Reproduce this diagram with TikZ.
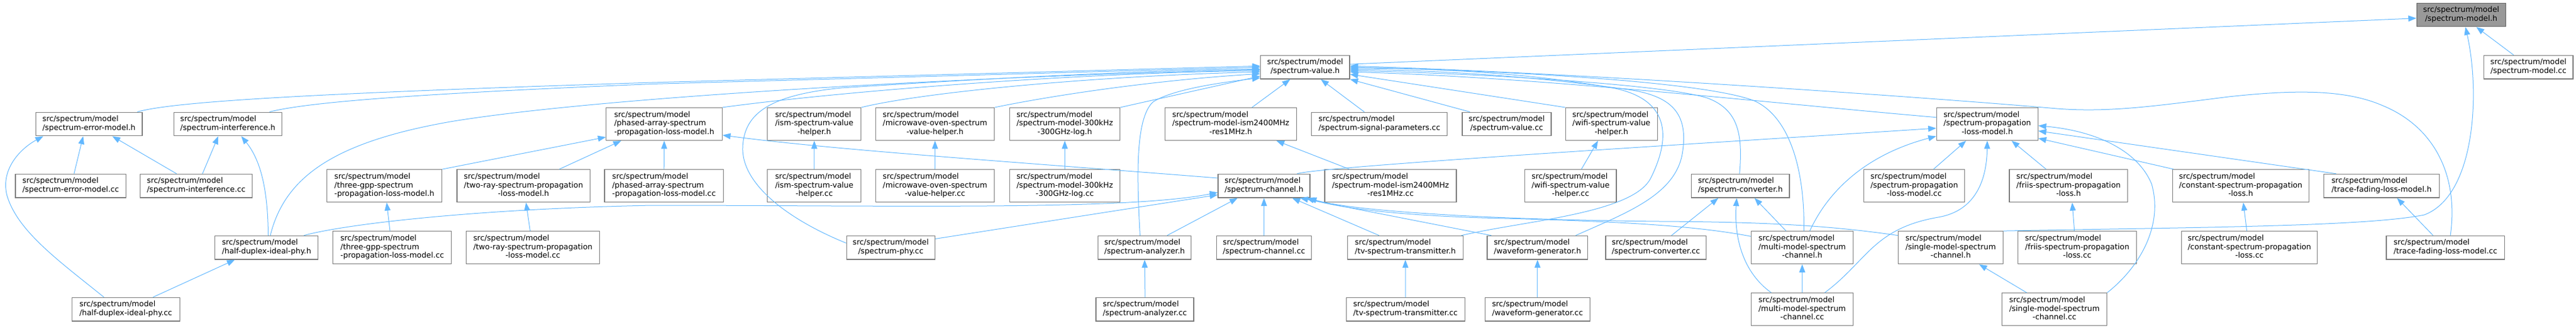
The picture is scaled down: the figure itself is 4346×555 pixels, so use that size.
\documentclass[tikz,border=0pt]{standalone}
\usepackage{fontspec}
\setmainfont{DejaVu Sans}
\usetikzlibrary{arrows.meta}
\definecolor{edgeblue}{HTML}{63B8FF}
\definecolor{boxline}{HTML}{7A7A7A}
\definecolor{rootfill}{HTML}{999999}
\definecolor{rootline}{HTML}{5E5E5E}
% label: first lines left, last line centred
\newcommand{\srcl}[1]{\begin{tabular}{@{}l@{}}src/spectrum/model\\\multicolumn{1}{@{}c@{}}{#1}\end{tabular}}
\newcommand{\srclt}[2]{\begin{tabular}{@{}l@{}}src/spectrum/model\\#1\\\multicolumn{1}{@{}c@{}}{#2}\end{tabular}}
\tikzset{
	fbox/.style={draw=boxline, fill=white, line width=1.2pt, inner sep=0pt,
		minimum height=39.7pt, font=\fontsize{12.85}{14.7}\selectfont}, % file box
	tall/.style={minimum height=55pt}, % three text lines
	root/.style={fill=rootfill, draw=rootline},
	dep/.style={draw=edgeblue, line width=1pt, -{Triangle[length=13.5pt,width=10pt]}} % include edge
}

\begin{document}
\begin{tikzpicture}[x=1pt,y=-1pt]
	\useasboundingbox (0,0) rectangle (4346,555);
	% Row 0 / 1
	\node[fbox, root, minimum width=150pt] (modelh) at (4152.3,25) {\srcl{/spectrum-model.h}};
	\node[fbox, minimum width=150.3pt] (valueh) at (2201.9,113.2) {\srcl{/spectrum-value.h}};
	\node[fbox, minimum width=150.3pt] (modelcc) at (4265.8,113.2) {\srcl{/spectrum-model.cc}};
	% Row 2
	\node[fbox, minimum width=179.6pt] (errh) at (150.1,209) {\srcl{/spectrum-error-model.h}};
	\node[fbox, minimum width=182.4pt] (intfh) at (384.4,209) {\srcl{/spectrum-interference.h}};
	\node[fbox, tall, minimum width=195.6pt] (phasedh) at (1120.6,209) {\srclt{/phased-array-spectrum}{-propagation-loss-model.h}};
	\node[fbox, tall, minimum width=157.9pt] (ismh) at (1373.75,209) {\srclt{/ism-spectrum-value}{-helper.h}};
	\node[fbox, tall, minimum width=200.6pt] (microh) at (1577.5,209) {\srclt{/microwave-oven-spectrum}{-value-helper.h}};
	\node[fbox, tall, minimum width=186.6pt] (log300h) at (1796.4,209) {\srclt{/spectrum-model-300kHz}{-300GHz-log.h}};
	\node[fbox, tall, minimum width=221.6pt] (ism2400h) at (2076.5,209) {\srclt{/spectrum-model-ism2400MHz}{-res1MHz.h}};
	\node[fbox, minimum width=228.7pt] (sigcc) at (2327.2,209) {\srcl{/spectrum-signal-parameters.cc}};
	\node[fbox, minimum width=150pt] (valuecc) at (2542,209) {\srcl{/spectrum-value.cc}};
	\node[fbox, tall, minimum width=155pt] (wifih) at (2718.6,209) {\srclt{/wifi-spectrum-value}{-helper.h}};
	\node[fbox, tall, minimum width=171pt] (proph) at (3352.7,209) {\srclt{/spectrum-propagation}{-loss-model.h}};
	% Row 3
	\node[fbox, minimum width=186.6pt] (errcc) at (119.3,313.2) {\srcl{/spectrum-error-model.cc}};
	\node[fbox, minimum width=189.4pt] (intfcc) at (331.1,313.2) {\srcl{/spectrum-interference.cc}};
	\node[fbox, tall, minimum width=194.3pt] (threegpph) at (648.5,313.2) {\srclt{/three-gpp-spectrum}{-propagation-loss-model.h}};
	\node[fbox, tall, minimum width=224.4pt] (tworayh) at (883.2,313.2) {\srclt{/two-ray-spectrum-propagation}{-loss-model.h}};
	\node[fbox, tall, minimum width=200.5pt] (phasedcc) at (1120.2,313.2) {\srclt{/phased-array-spectrum}{-propagation-loss-model.cc}};
	\node[fbox, tall, minimum width=157.9pt] (ismcc) at (1373.75,313.2) {\srclt{/ism-spectrum-value}{-helper.cc}};
	\node[fbox, tall, minimum width=200.6pt] (microcc) at (1577.5,313.2) {\srclt{/microwave-oven-spectrum}{-value-helper.cc}};
	\node[fbox, tall, minimum width=186.6pt] (log300cc) at (1796.4,313.2) {\srclt{/spectrum-model-300kHz}{-300GHz-log.cc}};
	\node[fbox, minimum width=155pt] (chanh) at (2132.5,313.2) {\srcl{/spectrum-channel.h}};
	\node[fbox, tall, minimum width=222pt] (ism2400cc) at (2346,313.2) {\srclt{/spectrum-model-ism2400MHz}{-res1MHz.cc}};
	\node[fbox, tall, minimum width=154.7pt] (wificc) at (2649.7,313.2) {\srclt{/wifi-spectrum-value}{-helper.cc}};
	\node[fbox, minimum width=165.6pt] (convh) at (2936.2,313.2) {\srcl{/spectrum-converter.h}};
	\node[fbox, tall, minimum width=170.3pt] (propcc) at (3229.6,313.2) {\srclt{/spectrum-propagation}{-loss-model.cc}};
	\node[fbox, tall, minimum width=199.6pt] (friish) at (3489.8,313.2) {\srclt{/friis-spectrum-propagation}{-loss.h}};
	\node[fbox, tall, minimum width=229.5pt] (consth) at (3780.3,313.2) {\srclt{/constant-spectrum-propagation}{-loss.h}};
	\node[fbox, minimum width=194.4pt] (traceh) at (4017.9,313.2) {\srcl{/trace-fading-loss-model.h}};
	% Row 4
	\node[fbox, minimum width=174pt] (halfh) at (449.7,417.2) {\srcl{/half-duplex-ideal-phy.h}};
	\node[fbox, tall, minimum width=199.9pt] (threegppcc) at (661.8,417.2) {\srclt{/three-gpp-spectrum}{-propagation-loss-model.cc}};
	\node[fbox, tall, minimum width=225.2pt] (tworaycc) at (899,417.2) {\srclt{/two-ray-spectrum-propagation}{-loss-model.cc}};
	\node[fbox, minimum width=149.4pt] (phycc) at (1502.8,417.2) {\srcl{/spectrum-phy.cc}};
	\node[fbox, minimum width=157.2pt] (analyzerh) at (1931.1,417.2) {\srcl{/spectrum-analyzer.h}};
	\node[fbox, minimum width=160.4pt] (chancc) at (2132.5,417.2) {\srcl{/spectrum-channel.cc}};
	\node[fbox, minimum width=194.6pt] (tvh) at (2371,417.2) {\srcl{/tv-spectrum-transmitter.h}};
	\node[fbox, minimum width=169.7pt] (waveh) at (2593.9,417.2) {\srcl{/waveform-generator.h}};
	\node[fbox, minimum width=169.8pt] (convcc) at (2793.8,417.2) {\srcl{/spectrum-converter.cc}};
	\node[fbox, tall, minimum width=171.6pt] (multih) at (3040.5,417.2) {\srclt{/multi-model-spectrum}{-channel.h}};
	\node[fbox, tall, minimum width=176.6pt] (singleh) at (3291,417.2) {\srclt{/single-model-spectrum}{-channel.h}};
	\node[fbox, tall, minimum width=199.5pt] (friiscc) at (3504.5,417.2) {\srclt{/friis-spectrum-propagation}{-loss.cc}};
	\node[fbox, tall, minimum width=229.5pt] (constcc) at (3795,417.2) {\srclt{/constant-spectrum-propagation}{-loss.cc}};
	\node[fbox, minimum width=199.6pt] (tracecc) at (4125.7,417.2) {\srcl{/trace-fading-loss-model.cc}};
	% Row 5
	\node[fbox, minimum width=181.7pt] (halfcc) at (212.3,521.2) {\srcl{/half-duplex-ideal-phy.cc}};
	\node[fbox, minimum width=164.9pt] (analyzercc) at (1931.5,521.2) {\srcl{/spectrum-analyzer.cc}};
	\node[fbox, minimum width=199.9pt] (tvcc) at (2371.2,521.2) {\srcl{/tv-spectrum-transmitter.cc}};
	\node[fbox, minimum width=176.7pt] (wavecc) at (2593.9,521.2) {\srcl{/waveform-generator.cc}};
	\node[fbox, tall, minimum width=171.6pt] (multicc) at (3040.5,521.2) {\srclt{/multi-model-spectrum}{-channel.cc}};
	\node[fbox, tall, minimum width=176.9pt] (singlecc) at (3466,521.2) {\srclt{/single-model-spectrum}{-channel.cc}};

	% Edges into spectrum-model.h
	\draw[dep] ([yshift=5pt]valueh.east) -- ([yshift=-5.7pt]modelh.west);
	\draw[dep] ([xshift=-25pt]modelcc.north) -- ([xshift=25.4pt]modelh.south);
	\draw[dep] (singleh.north east) .. controls (3700,383) and (3990,382) .. (4090,362) .. controls (4175,330) and (4185,160) .. ([xshift=7.2pt]modelh.south);
	% Edges into spectrum-value.h, left side
	\draw[dep] ([xshift=81.4pt]errh.north) .. controls (290,172) and (500,158) .. (1100,139) -- ([yshift=2pt]valueh.west);
	\draw[dep] ([xshift=70.2pt]intfh.north) .. controls (520,172) and (700,158) .. (1100,141.5) -- (valueh.west);
	\draw[dep] ([xshift=6.3pt]halfh.north) .. controls (480,300) and (560,240) .. (760,205) .. controls (1000,165) and (1600,130) .. ([yshift=-4pt]valueh.west);
	\draw[dep] (phasedh.north east) .. controls (1450,150) and (1850,122) .. ([yshift=-6pt]valueh.west);
	\draw[dep] (ismh.north east) .. controls (1560,155) and (1850,128) .. ([yshift=-8pt]valueh.west);
	\draw[dep] (microh.north east) .. controls (1780,160) and (1950,135) .. ([yshift=-11pt]valueh.west);
	\draw[dep] (log300h.north east) -- ([yshift=-15pt]valueh.west);
	\draw[dep] ([yshift=7.7pt]phycc.west) .. controls (1330,370) and (1250,310) .. (1253,247) .. controls (1256,190) and (1300,160) .. (1420,148) .. controls (1700,130) and (1950,118) .. ([yshift=-3pt]valueh.west);
	\draw[dep] ([xshift=-7.7pt]analyzerh.north) .. controls (1918,300) and (1915,200) .. (1945,172) .. controls (1975,152) and (2050,140) .. ([yshift=-18pt]valueh.west);
	% Edges into spectrum-value.h, below and right
	\draw[dep] ([xshift=35.8pt]ism2400h.north) -- ([xshift=-25.2pt]valueh.south);
	\draw[dep] ([xshift=-25.5pt]sigcc.north) -- ([xshift=26.4pt]valueh.south);
	\draw[dep] ([xshift=-62pt]valuecc.north) -- (valueh.south east);
	\draw[dep] (wifih.north west) -- ([yshift=-12pt]valueh.east);
	\draw[dep] ([xshift=-3.5pt]tvh.north east) .. controls (2570,372) and (2755,360) .. (2785,300) .. controls (2815,240) and (2825,168) .. (2720,148) .. controls (2560,120) and (2400,115) .. ([yshift=-2pt]valueh.east);
	\draw[dep] ([xshift=-21pt]waveh.north east) .. controls (2740,360) and (2825,330) .. (2838,260) .. controls (2850,190) and (2820,160) .. (2740,150) .. controls (2560,125) and (2400,118) .. ([yshift=-4pt]valueh.east);
	\draw[dep] ([xshift=-1.4pt]convh.north) .. controls (2940,230) and (2935,185) .. (2880,165) .. controls (2800,140) and (2450,122) .. ([yshift=-6pt]valueh.east);
	\draw[dep] ([xshift=2.8pt]multih.north) .. controls (3045,300) and (3025,200) .. (2960,170) .. controls (2870,135) and (2500,118) .. (valueh.east);
	\draw[dep] ([yshift=11.3pt]proph.west) .. controls (3000,175) and (2600,130) .. ([yshift=-8pt]valueh.east);
	\draw[dep] ([xshift=8.3pt]tracecc.north) .. controls (4148,300) and (4110,215) .. (4020,178) .. controls (3960,152) and (3880,150) .. (3760,163) .. controls (3640,178) and (3560,190) .. (3470,183) .. controls (3300,168) and (2700,124) .. ([yshift=2pt]valueh.east);
	% Left group
	\draw[dep] ([xshift=5.6pt]errcc.north) -- ([xshift=-9.8pt]errh.south);
	\draw[dep] ([xshift=-33.1pt]intfcc.north) -- ([xshift=39.3pt]errh.south);
	\draw[dep] ([xshift=-36.9pt]halfcc.north) .. controls (100,440) and (30,390) .. (12,330) .. controls (0,285) and (35,250) .. ([xshift=13.4pt]errh.south west);
	\draw[dep] ([xshift=10.5pt]intfcc.north) -- ([xshift=-16.1pt]intfh.south);
	\draw[dep] ([xshift=2.8pt]halfh.north) .. controls (452,320) and (440,270) .. ([xshift=22.6pt]intfh.south);
	\draw[dep] ([xshift=45.7pt]halfcc.north) -- ([xshift=-53.4pt]halfh.south);
	% Phased array group
	\draw[dep] (threegpph.north east) -- ([yshift=-22pt]phasedh.west);
	\draw[dep] ([xshift=60.3pt]tworayh.north) -- ([xshift=25.9pt]phasedh.south west);
	\draw[dep] (phasedcc.north) -- (phasedh.south);
	\draw[dep] ([yshift=13.2pt]chanh.west) .. controls (1700,272) and (1400,252) .. ([yshift=-18.7pt]phasedh.east);
	\draw[dep] ([xshift=-3.8pt]threegppcc.north) -- ([xshift=3.9pt]threegpph.south);
	\draw[dep] ([xshift=-4.6pt]tworaycc.north) -- ([xshift=4.2pt]tworayh.south);
	% Helpers
	\draw[dep] (ismcc.north) -- (ismh.south);
	\draw[dep] (microcc.north) -- (microh.south);
	\draw[dep] (log300cc.north) -- (log300h.south);
	\draw[dep] ([xshift=-69.3pt]ism2400cc.north) -- ([xshift=76.8pt]ism2400h.south);
	\draw[dep] ([xshift=18.3pt]wificc.north) -- ([xshift=-22.6pt]wifih.south);
	% Edges into spectrum-channel.h
	\draw[dep] ([xshift=-24.7pt]halfh.north east) .. controls (580,378) and (800,352) .. (1100,346) .. controls (1500,346) and (1900,355) .. ([yshift=-11pt]chanh.west);
	\draw[dep] ([yshift=14.8pt]phycc.east) -- ([yshift=-15pt]chanh.west);
	\draw[dep] ([xshift=37.9pt]analyzerh.north) -- ([xshift=-44.5pt]chanh.south);
	\draw[dep] (chancc.north) -- (chanh.south);
	\draw[dep] ([xshift=-44.3pt]tvh.north) -- ([xshift=47.5pt]chanh.south);
	\draw[dep] ([xshift=7.7pt]waveh.north west) -- ([xshift=60.8pt]chanh.south);
	\draw[dep] ([yshift=18.9pt]multih.west) .. controls (2850,378) and (2700,372) .. (2500,367) .. controls (2350,362) and (2260,350) .. ([xshift=-7pt]chanh.south east);
	\draw[dep] ([yshift=20.5pt]singleh.west) .. controls (3100,382) and (3000,374) .. (2800,373) .. controls (2500,370) and (2280,355) .. ([xshift=-3pt]chanh.south east);
	\draw[dep] ([xshift=55.8pt]chanh.north) .. controls (2230,280) and (2900,240) .. ([yshift=-7pt]proph.west);
	\draw[dep] ([xshift=0.4pt]analyzercc.north) -- (analyzerh.south);
	\draw[dep] (tvcc.north) -- (tvh.south);
	\draw[dep] (wavecc.north) -- (waveh.south);
	% Converter and multi-model
	\draw[dep] ([xshift=26.1pt]convcc.north) -- ([xshift=-37.2pt]convh.south);
	\draw[dep] ([xshift=-27.2pt]multih.north) -- ([xshift=23.8pt]convh.south);
	\draw[dep] ([xshift=-52.2pt]multicc.north) .. controls (2935,455) and (2926,390) .. ([xshift=-6.2pt]convh.south);
	\draw[dep] (multicc.north) -- (multih.south);
	% Edges into spectrum-propagation-loss-model.h
	\draw[dep] ([xshift=38pt]multicc.north) .. controls (3150,440) and (3160,385) .. (3270,366) .. controls (3335,355) and (3352,300) .. (proph.south);
	\draw[dep] ([xshift=12.8pt]multih.north) .. controls (3085,320) and (3150,260) .. ([yshift=-20.5pt]proph.west);
	\draw[dep] ([xshift=32.4pt]propcc.north) -- ([xshift=-35.7pt]proph.south);
	\draw[dep] ([xshift=-37.8pt]friish.north) -- ([xshift=41pt]proph.south);
	\draw[dep] ([xshift=2.2pt]consth.north west) -- ([yshift=-24pt]proph.east);
	\draw[dep] ([xshift=21.3pt]traceh.north west) -- ([yshift=-11.6pt]proph.east);
	\draw[dep] (singlecc.north east) .. controls (3610,450) and (3650,380) .. (3630,310) .. controls (3605,250) and (3530,220) .. ([yshift=-2.8pt]proph.east);
	% Right group
	\draw[dep] ([xshift=-4.8pt]friiscc.north) -- ([xshift=6.2pt]friish.south);
	\draw[dep] ([xshift=-4.4pt]constcc.north) -- ([xshift=4.4pt]consth.south);
	\draw[dep] ([xshift=-20.8pt]tracecc.north) -- ([xshift=26.1pt]traceh.south);
	\draw[dep] ([xshift=-46.7pt]singlecc.north) -- ([xshift=47.9pt]singleh.south);
\end{tikzpicture}
\end{document}
